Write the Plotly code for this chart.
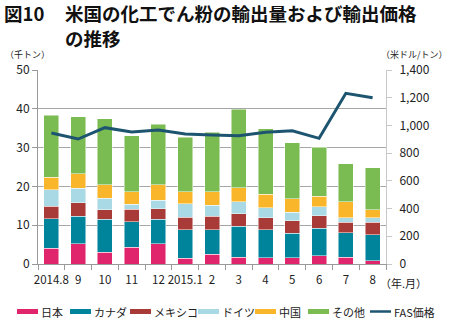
import plotly.graph_objects as go

months = ["2014.8", "9", "10", "11", "12", "2015.1", "2", "3", "4", "5", "6", "7", "8"]
japan   = [4.0, 5.2, 3.0, 4.3, 5.2, 1.5, 2.5, 1.7, 1.6, 1.6, 2.1, 1.7, 0.9]
canada  = [7.7, 7.1, 8.5, 6.6, 6.3, 7.3, 6.3, 8.0, 7.2, 6.3, 7.1, 6.3, 6.7]
mexico  = [3.2, 3.5, 2.5, 3.2, 2.7, 3.3, 3.5, 3.2, 3.1, 3.3, 3.2, 2.8, 3.1]
germany = [4.3, 3.7, 2.9, 1.3, 2.2, 3.4, 2.9, 3.1, 2.6, 2.2, 2.3, 1.1, 1.2]
china   = [3.2, 3.7, 3.5, 3.2, 4.0, 3.1, 3.4, 3.7, 3.5, 3.4, 2.7, 4.1, 2.1]
others  = [16.0, 14.8, 17.0, 14.4, 15.6, 14.1, 15.4, 20.2, 16.8, 14.5, 12.7, 9.9, 10.8]
fas_price = [945, 902, 984, 953, 967, 938, 931, 926, 950, 962, 907, 1232, 1200]

series_names = ["日本", "カナダ", "メキシコ", "ドイツ", "中国", "その他"]
series_vals = [japan, canada, mexico, germany, china, others]
colors = ["#E0256C", "#00849B", "#A83B37", "#A9D9E4", "#F9B62A", "#7BBC52"]
line_color = "#1D5570"
line_name = "FAS価格"

FONT = "Noto Sans CJK JP"
W, H = 450, 324
ML, MR, MT, MB = 38, 64, 70, 60
PW, PH = W - ML - MR, H - MT - MB


def px(x):
    return (x - ML) / PW


def py(y):
    return (H - MB - y) / PH


fig = go.Figure()
for name, vals, c in zip(series_names, series_vals, colors):
    fig.add_trace(go.Bar(x=months, y=vals, name=name,
                         marker=dict(color=c, line=dict(color="rgba(255,255,255,0.6)", width=0.8)),
                         showlegend=False))
fig.add_trace(go.Scatter(x=months, y=fas_price, name=line_name, mode="lines", yaxis="y2",
                         line=dict(color=line_color, width=3), showlegend=False))

fig.update_layout(
    width=W, height=H,
    margin=dict(l=ML, r=MR, t=MT, b=MB),
    barmode="stack", bargap=0.44,
    plot_bgcolor="white", paper_bgcolor="white",
    font=dict(family=FONT, size=12, color="#222"),
    xaxis=dict(type="category", showline=True, linecolor="#9a9a9a", linewidth=1,
               ticks="outside", tickson="boundaries", ticklen=5, tickcolor="#9a9a9a",
               tickangle=0, ticklabelstandoff=5, tickfont=dict(size=11.5, family=FONT), showgrid=False),
    yaxis=dict(range=[0, 50], dtick=10, showgrid=True, gridcolor="#a6a6a6", gridwidth=1,
               showline=True, linecolor="#9a9a9a", ticks="outside", ticklen=5, tickcolor="#9a9a9a",
               tickfont=dict(size=12, family=FONT), zeroline=False),
    yaxis2=dict(range=[0, 1400], dtick=200, overlaying="y", side="right", tickformat=",",
                showgrid=False, showline=True, linecolor="#c8c8c8", ticks="outside", ticklen=5,
                tickcolor="#c8c8c8", ticklabelstandoff=5,
                tickfont=dict(size=12, family="Liberation Sans Narrow, " + FONT),
                zeroline=False),
    showlegend=False,
)

ann = [
    dict(text="<b>図10</b>", x=3, y=-1, anchor="left", font=dict(size=18.5, family=FONT, color="#111")),
    dict(text="<b>米国の化工でん粉の輸出量および輸出価格</b>", x=64, y=-1, anchor="left",
         font=dict(size=18.5, family=FONT, color="#111")),
    dict(text="<b>の推移</b>", x=64, y=24, anchor="left", font=dict(size=18.5, family=FONT, color="#111")),
    dict(text="（千トン）", x=4, y=47, anchor="left", font=dict(size=9, family=FONT)),
    dict(text="（米ドル/トン）", x=449, y=47, anchor="right", font=dict(size=9, family=FONT)),
    dict(text="（年.月）", x=379, y=274, anchor="left", font=dict(size=11, family=FONT)),
]
for a in ann:
    fig.add_annotation(text=a["text"], x=px(a["x"]), y=py(a["y"]), xref="paper", yref="paper",
                       xanchor=a["anchor"], yanchor="top", showarrow=False, font=a["font"],
                       borderpad=0)

# legend (manual, to match the wide swatch style)
leg_x = [17, 70, 130, 198, 255, 308, 370]
leg_names = series_names + [line_name]
leg_colors = colors + [line_color]
for i, (lx, nm, c) in enumerate(zip(leg_x, leg_names, leg_colors)):
    h = 5 if i < 6 else 2.5
    fig.add_shape(type="rect", xref="paper", yref="paper",
                  x0=px(lx), x1=px(lx + 21), y0=py(311.5 + h / 2), y1=py(311.5 - h / 2),
                  fillcolor=c, line=dict(width=0))
    fig.add_annotation(text=nm, x=px(lx + 23), y=py(311.5), xref="paper", yref="paper",
                       xanchor="left", yanchor="middle", showarrow=False, borderpad=0,
                       font=dict(size=11, family=FONT, color="#222"))

fig.write_html("out.html")
